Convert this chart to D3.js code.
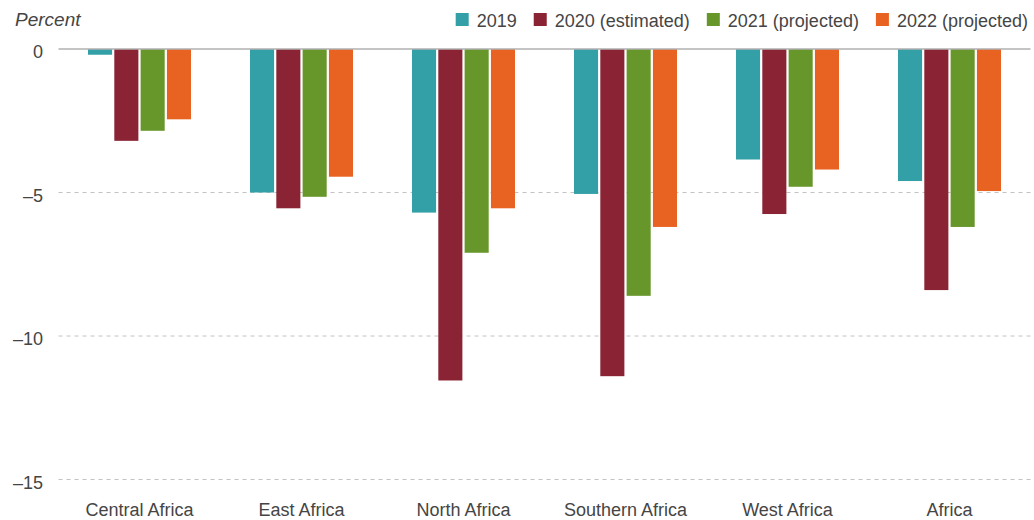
<!DOCTYPE html>
<html>
<head>
<meta charset="utf-8">
<script src="https://cdn.jsdelivr.net/npm/d3@7"></script>
<style>
  body { margin: 0; background: #fff; }
  svg text { font-family: "Liberation Sans", Arial, sans-serif; fill: #454545; }
</style>
</head>
<body>
<svg id="chart" width="1034" height="520"></svg>
<script>
const regions = ['Central Africa', 'East Africa', 'North Africa', 'Southern Africa', 'West Africa', 'Africa'];
const seriesNames = ['2019', '2020 (estimated)', '2021 (projected)', '2022 (projected)'];
const colors = ['#339fa6', '#8a2333', '#67962b', '#e86221'];
const v2019 = [-0.2, -5.0, -5.7, -5.05, -3.85, -4.6];
const v2020 = [-3.2, -5.55, -11.55, -11.4, -5.75, -8.4];
const v2021 = [-2.85, -5.15, -7.1, -8.6, -4.8, -6.2];
const v2022 = [-2.45, -4.45, -5.55, -6.2, -4.2, -4.95];
const yTicks = [0, -5, -10, -15];

const values = [v2019, v2020, v2021, v2022];
const data = regions.map((r, i) => ({
    region: r,
    vals: seriesNames.map((s, j) => ({ key: s, value: values[j][i], color: colors[j] }))
}));

const svg = d3.select('#chart');
const left = 58.5, right = 1030.5;

const x0 = d3.scaleBand().domain(regions).range([left, right]).padding(0);
const x1 = d3.scaleBand().domain(seriesNames).range([29.5, 132.5]).paddingInner(0.085).paddingOuter(0);
const y = d3.scaleLinear().domain([0, -15]).range([49, 479.5]);

// gridlines
svg.append('g')
    .selectAll('line')
    .data(yTicks.filter(d => d !== 0))
    .enter()
    .append('line')
    .attr('x1', left)
    .attr('x2', right)
    .attr('y1', d => y(d))
    .attr('y2', d => y(d))
    .attr('stroke', '#c2c2c2')
    .attr('stroke-width', 1)
    .attr('stroke-dasharray', '4,4');

// y labels
svg.append('g')
    .selectAll('text')
    .data(yTicks)
    .enter()
    .append('text')
    .attr('x', 43)
    .attr('y', d => y(d) + 9)
    .attr('text-anchor', 'end')
    .style('font-size', '18px')
    .text(d => d === 0 ? '0' : '\u2013' + Math.abs(d));

// bars
const groups = svg.append('g')
    .selectAll('g')
    .data(data)
    .enter()
    .append('g')
    .attr('transform', d => `translate(${x0(d.region)},0)`);

groups.selectAll('rect')
    .data(d => d.vals)
    .enter()
    .append('rect')
    .attr('x', d => x1(d.key))
    .attr('y', y(0))
    .attr('width', x1.bandwidth())
    .attr('height', d => y(d.value) - y(0))
    .style('fill', d => d.color);

// zero line
svg.append('line')
    .attr('x1', left)
    .attr('x2', right)
    .attr('y1', y(0))
    .attr('y2', y(0))
    .attr('stroke', '#b0b0b0')
    .attr('stroke-width', 1.5);

// x labels
svg.append('g')
    .selectAll('text')
    .data(regions)
    .enter()
    .append('text')
    .attr('x', d => x0(d) + x0.bandwidth() / 2)
    .attr('y', 516)
    .attr('text-anchor', 'middle')
    .style('font-size', '18px')
    .text(d => d);

// axis title
svg.append('text')
    .attr('x', 15)
    .attr('y', 26)
    .style('font-size', '19px')
    .style('font-style', 'italic')
    .text('Percent');

// legend, laid out left to right then pushed to the right edge
const legend = svg.append('g');
let lx = 0;
seriesNames.forEach((name, i) => {
    const item = legend.append('g').attr('transform', `translate(${lx},0)`);
    item.append('rect')
        .attr('x', 0)
        .attr('y', 13)
        .attr('width', 13)
        .attr('height', 13)
        .style('fill', colors[i]);
    const t = item.append('text')
        .attr('x', 21)
        .attr('y', 27)
        .style('font-size', '18px')
        .text(name);
    lx += 21 + t.node().getComputedTextLength() + 17;
});
const legendWidth = lx - 17;
legend.attr('transform', `translate(${1028 - legendWidth},0)`);
</script>
</body>
</html>
